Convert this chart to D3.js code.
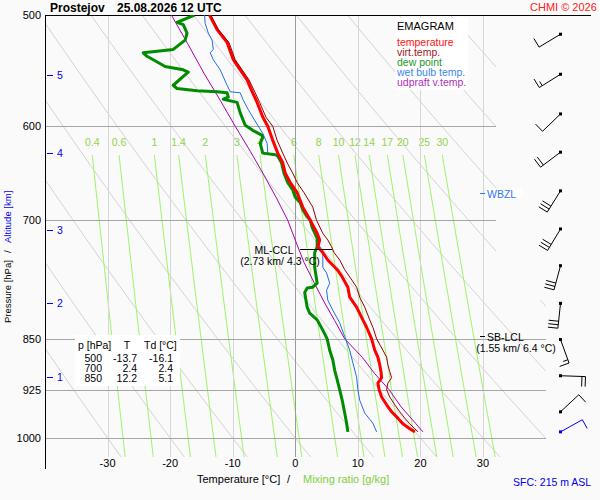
<!DOCTYPE html>
<html>
<head>
<meta charset="utf-8">
<script src="https://cdn.jsdelivr.net/npm/d3@7"></script>
<style>
  body { margin: 0; background: #fafafa; }
  svg { display: block; font-family: "Liberation Sans", Arial, sans-serif; }
</style>
</head>
<body>
<svg id="emagram" width="600" height="500"></svg>
<script>
// sounding values
const tempP = [500, 512, 523, 538, 547, 556, 568, 577, 591, 600, 614, 627, 637, 648, 658, 669, 685, 700, 715, 723, 731, 738, 747, 759, 768, 781, 794, 807, 824, 834, 850, 866, 876, 887, 897, 906, 914, 924, 935, 947, 958, 968, 977, 985, 990];
const tempT = [-13.7, -12.5, -10.9, -9.9, -8.8, -7.7, -6.8, -6.1, -5.2, -4.4, -3.6, -2.8, -2.0, -1.6, -0.8, 0.3, 1.2, 2.4, 3.5, 3.9, 3.6, 4.4, 5.2, 6.7, 7.5, 8.4, 8.7, 9.8, 10.8, 11.4, 12.2, 12.7, 13.2, 13.5, 13.7, 13.8, 13.2, 13.4, 13.8, 14.6, 15.4, 16.4, 17.2, 18.3, 19.1];
const virtT = [-13.5, -12.3, -10.6, -9.6, -8.5, -7.4, -6.4, -5.7, -4.7, -3.6, -2.9, -2.0, -1.3, -0.4, 0.3, 1.4, 2.8, 3.4, 4.4, 5.2, 5.8, 6.2, 7.1, 7.9, 8.7, 9.8, 10.3, 11.1, 11.9, 12.4, 13.0, 14.0, 14.6, 14.8, 15.1, 15.4, 14.8, 14.6, 15.1, 15.9, 16.7, 17.5, 18.3, 19.1, 19.6];

const dewP = [500, 506, 508, 515, 521, 529, 532, 535, 538, 544, 547, 549, 553, 561, 564, 566, 567, 568, 572, 574, 577, 587, 599, 604, 609, 611, 617, 627, 629, 637, 648, 658, 666, 674, 680, 688, 696, 700, 708, 721, 731, 738, 756, 776, 781, 782, 788, 807, 815, 824, 838, 850, 866, 880, 895, 909, 924, 940, 960, 976, 990];
const dewT = [-16.1, -18.9, -17.9, -17.3, -17.6, -19.5, -24.3, -23.7, -22.7, -20.8, -17.9, -17.1, -17.9, -19.5, -18.9, -15.7, -12.5, -10.9, -10.7, -11.5, -9.3, -8.8, -8.0, -6.8, -5.3, -5.2, -5.6, -5.2, -2.9, -2.2, -1.8, -1.2, -0.4, 0.0, 0.8, 1.2, 1.9, 2.4, 2.7, 3.5, 3.5, 3.1, 3.1, 3.5, 2.8, 1.9, 1.5, 1.9, 2.3, 3.5, 4.4, 5.1, 5.5, 6.0, 6.3, 6.7, 7.1, 7.5, 7.9, 8.2, 8.4];

const wetP = [500, 507, 515, 521, 529, 532, 538, 547, 561, 567, 568, 575, 584, 592, 599, 607, 617, 627, 629, 637, 648, 658, 666, 674, 685, 696, 700, 708, 731, 738, 756, 763, 776, 785, 798, 811, 828, 847, 866, 884, 905, 924, 940, 960, 976, 990];
const wetT = [-14.5, -14.4, -13.9, -13.3, -13.1, -13.6, -13.1, -12.0, -10.9, -10.4, -8.8, -8.3, -7.5, -6.7, -6.0, -5.2, -4.5, -4.4, -3.2, -2.1, -1.7, -1.0, -0.4, 0.3, 1.1, 1.9, 2.4, 2.8, 3.9, 4.4, 4.4, 5.0, 5.5, 5.0, 5.2, 6.0, 7.1, 7.9, 8.7, 9.2, 9.8, 10.0, 10.3, 11.1, 12.4, 13.0];

const parcelP = [500, 525, 550, 575, 600, 625, 650, 675, 700, 725, 750, 775, 800, 825, 850, 876, 900, 924, 950, 976, 990];
const parcelT = [-19.8, -17.1, -14.6, -12.0, -9.6, -7.2, -5.0, -3.0, -1.2, 0.1, 1.4, 3.0, 4.6, 6.3, 7.9, 10.7, 12.7, 15.0, 16.9, 19.2, 20.4];

// wind every 0.5 km
const windP = [516, 551, 588, 626, 667, 710, 754, 802, 851, 903, 958, 990];
const windDir = [239, 238, 226, 233, 212, 211, 195, 186, 160, 92, 47, 61];
const windSpd = [10, 15, 10, 20, 30, 30, 30, 30, 15, 20, 10, 10];

const pressureTicks = [500, 600, 700, 850, 925, 1000];
const tempTicks = [-30, -20, -10, 0, 10, 20, 30];
const altKm = [1, 2, 3, 4, 5];
const altP = [905, 802, 711, 627, 552];
const mixRatios = [0.4, 0.6, 1, 1.4, 2, 3, 4, 6, 8, 10, 12, 14, 17, 20, 25, 30];
const thetas = [-30, -20, -10, 0, 10, 20, 30, 40, 50, 60, 70, 80, 90, 100];

const tableP = [500, 700, 850];
const tableT = [-13.7, 2.4, 12.2];
const tableTd = [-16.1, 2.4, 5.1];

const legendNames = ["temperature", "virt.temp.", "dew point", "wet bulb temp.", "udpraft v.temp."];

const cclP = 735, cclT = 4.3, cclText = "(2.73 km/ 4.3 °C)";
const lclP = 846, lclText = "(1.55 km/ 6.4 °C)";
const wbzlP = 669;

const colors = {
    temp: "#ff0000",
    virt: "#990000",
    dew: "#008c00",
    wet: "#1f6fe8",
    parcel: "#a800b0"
};
const legendColors = ["#ff1010", "#a01818", "#1c9a1c", "#3a86ee", "#b030c0"];

const svg = d3.select("#emagram");
const x = d3.scaleLinear().domain([-40, 32]).range([45, 495.5]);
const y = d3.scaleLog().domain([500, 1000]).range([15, 438]);
const xLeft = 45, xRight = 496, yTop = 15, yBottom = 457;
const pBottom = y.invert(yBottom);

const defs = svg.append("defs");
defs.append("clipPath").attr("id", "plot-clip").append("rect")
    .attr("x", xLeft).attr("y", yTop).attr("width", xRight - xLeft).attr("height", yBottom - yTop);
const wideClip = defs.append("clipPath").attr("id", "wide-clip");
wideClip.append("rect")
    .attr("x", xLeft).attr("y", yTop).attr("width", xRight - xLeft).attr("height", yBottom - yTop);
wideClip.append("rect")
    .attr("x", xRight).attr("y", 300).attr("width", 50).attr("height", yBottom - 300);

const tp = d3.line().x(d => x(d[1])).y(d => y(d[0]));

function drawGrid() {
    console.log("drawGrid ...");
    const g = svg.append("g");

    // dry adiabats
    const pSteps = d3.range(480, 1045, 5);
    g.selectAll(".adiabat").data(thetas).enter().append("path")
        .attr("d", th => tp(pSteps.map(p => [p, (th + 273.15) * Math.pow(p / 1000, 0.2857) - 273.15])))
        .attr("fill", "none").attr("stroke", "#d2d2d2").attr("stroke-width", 1)
        .attr("clip-path", "url(#wide-clip)");

    // mixing ratio lines
    const mixTop = 629;
    const mixT = (w, p) => {
        const l = Math.log(w * p / (622 + w) / 6.112);
        return 243.5 * l / (17.67 - l);
    };
    const mixSteps = d3.range(0, 11).map(i => mixTop + (pBottom - mixTop) * i / 10);
    g.selectAll(".mix").data(mixRatios).enter().append("path")
        .attr("d", w => tp(mixSteps.map(p => [p, mixT(w, p)])))
        .attr("fill", "none").attr("stroke", "#9ef56a").attr("stroke-width", 1);
    g.selectAll(".mix-label").data(mixRatios).enter().append("text")
        .attr("x", w => x(mixT(w, mixTop)))
        .attr("y", 146)
        .attr("text-anchor", "middle")
        .attr("font-size", 10.5)
        .attr("fill", "#94d24e")
        .text(w => w);

    // isotherms
    g.selectAll(".isotherm").data(tempTicks).enter().append("line")
        .attr("x1", t => Math.round(x(t)) + 0.5).attr("x2", t => Math.round(x(t)) + 0.5)
        .attr("y1", yTop).attr("y2", yBottom)
        .attr("stroke", t => t === 0 ? "#999999" : "#d6d6d6");

    // isobars
    g.selectAll(".isobar").data(pressureTicks.slice(1)).enter().append("line")
        .attr("x1", xLeft).attr("x2", p => p >= 800 ? 546 : xRight)
        .attr("y1", p => Math.round(y(p)) + 0.5).attr("y2", p => Math.round(y(p)) + 0.5)
        .attr("stroke", "#a6a6a6");

    // frame
    g.append("line").attr("x1", xLeft).attr("x2", 591).attr("y1", 15.5).attr("y2", 15.5)
        .attr("stroke", "#000");
    g.append("line").attr("x1", 45.5).attr("x2", 45.5).attr("y1", 15).attr("y2", 469)
        .attr("stroke", "#000");

    // pressure labels
    g.selectAll(".plabel").data(pressureTicks).enter().append("text")
        .attr("x", 41).attr("y", p => y(p) + 4)
        .attr("text-anchor", "end").attr("font-size", 11).attr("fill", "#000")
        .text(p => p);

    // temperature labels
    g.selectAll(".tlabel").data(tempTicks).enter().append("text")
        .attr("x", t => x(t)).attr("y", 467)
        .attr("text-anchor", "middle").attr("font-size", 11).attr("fill", "#000")
        .text(t => t);

    // altitude ticks
    g.selectAll(".alt-tick").data(altP).enter().append("line")
        .attr("x1", 47).attr("x2", 53)
        .attr("y1", p => Math.round(y(p)) + 0.5).attr("y2", p => Math.round(y(p)) + 0.5)
        .attr("stroke", "#0000ee");
    g.selectAll(".alt-label").data(altKm).enter().append("text")
        .attr("x", 57).attr("y", (k, i) => y(altP[i]) + 4)
        .attr("font-size", 10.5).attr("fill", "#0000ee")
        .text(k => k);
    console.log("drawGrid OK");
}

function drawProfiles() {
    console.log("drawProfiles ...");
    const g = svg.append("g").attr("clip-path", "url(#plot-clip)")
        .attr("fill", "none").attr("stroke-linejoin", "round");
    g.append("path").attr("d", tp(d3.zip(parcelP, parcelT)))
        .attr("stroke", colors.parcel).attr("stroke-width", 1);
    g.append("path").attr("d", tp(d3.zip(wetP, wetT)))
        .attr("stroke", colors.wet).attr("stroke-width", 1);
    g.append("path").attr("d", tp(d3.zip(dewP, dewT)))
        .attr("stroke", colors.dew).attr("stroke-width", 3);
    g.append("path").attr("d", tp(d3.zip(tempP, tempT)))
        .attr("stroke", colors.temp).attr("stroke-width", 3);
    g.append("path").attr("d", tp(d3.zip(tempP, virtT)))
        .attr("stroke", colors.virt).attr("stroke-width", 1);
    console.log("drawProfiles OK");
}

function drawBarbs() {
    console.log("drawBarbs ...");
    const g = svg.append("g");
    windP.forEach((p, i) => {
        const color = i === windP.length - 1 ? "#0000ff" : "#000000";
        const x0 = 560.5, y0 = y(p);
        const a = windDir[i] * Math.PI / 180;
        const ux = Math.sin(a), uy = -Math.cos(a);
        const px = -uy, py = ux;
        const len = 25;
        g.append("line")
            .attr("x1", x0).attr("y1", y0)
            .attr("x2", x0 + ux * len).attr("y2", y0 + uy * len)
            .attr("stroke", color);
        g.append("rect").attr("x", x0 - 1.5).attr("y", y0 - 1.5)
            .attr("width", 3).attr("height", 3).attr("fill", color);
        let rest = windSpd[i];
        let pos = len;
        while (rest >= 10) {
            const bx = x0 + ux * pos, by = y0 + uy * pos;
            g.append("line").attr("x1", bx).attr("y1", by)
                .attr("x2", bx + px * 10).attr("y2", by + py * 10)
                .attr("stroke", color);
            pos -= 3.5;
            rest -= 10;
        }
        if (rest >= 5) {
            const bx = x0 + ux * pos, by = y0 + uy * pos;
            g.append("line").attr("x1", bx).attr("y1", by)
                .attr("x2", bx + px * 5).attr("y2", by + py * 5)
                .attr("stroke", color);
        }
    });
    console.log("drawBarbs OK");
}

function drawLabels() {
    console.log("drawLabels ...");
    // title
    svg.append("text").attr("x", 50).attr("y", 11.5)
        .attr("font-size", 12).attr("font-weight", "bold").text("Prostejov");
    svg.append("text").attr("x", 117).attr("y", 11.5)
        .attr("font-size", 12).attr("font-weight", "bold").text("25.08.2026 12 UTC");
    svg.append("text").attr("x", 530).attr("y", 11)
        .attr("font-size", 11).attr("fill", "#ff2020").text("CHMI © 2026");

    // legend
    svg.append("rect").attr("x", 395).attr("y", 18).attr("width", 73).attr("height", 72).attr("fill", "#fff");
    svg.append("text").attr("x", 397).attr("y", 30).attr("font-size", 11).text("EMAGRAM");
    svg.selectAll(".legend").data(legendNames).enter().append("text")
        .attr("x", 397).attr("y", (d, i) => 46 + i * 10)
        .attr("font-size", 10.5).attr("fill", (d, i) => legendColors[i])
        .text(d => d);

    // table, one text per row
    svg.append("rect").attr("x", 75).attr("y", 335).attr("width", 105).attr("height", 51).attr("fill", "#fff");
    const head = svg.append("text").attr("y", 349).attr("font-size", 10.5);
    head.append("tspan").attr("x", 78).text("p [hPa]");
    head.append("tspan").attr("x", 127).attr("text-anchor", "middle").text("T");
    head.append("tspan").attr("x", 144).text("Td [°C]");
    tableP.forEach((p, i) => {
        const row = svg.append("text").attr("y", 362 + i * 10).attr("font-size", 10.5);
        row.append("tspan").attr("x", 102).attr("text-anchor", "end").text(p);
        row.append("tspan").attr("x", 137).attr("text-anchor", "end").text(tableT[i].toFixed(1));
        row.append("tspan").attr("x", 173).attr("text-anchor", "end").text(tableTd[i].toFixed(1));
    });

    // ML-CCL
    const cy = Math.round(y(cclP)) - 0.5;
    svg.append("line").attr("x1", x(cclT) - 22).attr("x2", x(cclT) + 10)
        .attr("y1", cy).attr("y2", cy).attr("stroke", "#000");
    svg.append("text").attr("x", 274).attr("y", cy + 4.5).attr("text-anchor", "middle")
        .attr("font-size", 10.5).text("ML-CCL");
    svg.append("text").attr("x", 280).attr("y", cy + 15.5).attr("text-anchor", "middle")
        .attr("font-size", 10.5).text(cclText);

    // SB-LCL
    const ly = Math.round(y(lclP)) + 0.5;
    svg.append("line").attr("x1", 480).attr("x2", 485).attr("y1", ly).attr("y2", ly).attr("stroke", "#000");
    svg.append("text").attr("x", 487).attr("y", ly + 4).attr("font-size", 10.5).text("SB-LCL");
    svg.append("text").attr("x", 516).attr("y", ly + 15).attr("text-anchor", "middle")
        .attr("font-size", 10.5).text(lclText);

    // WBZL
    const wy = Math.round(y(wbzlP)) + 0.5;
    svg.append("rect").attr("x", 486).attr("y", wy - 5).attr("width", 37).attr("height", 10).attr("fill", "#fff");
    svg.append("line").attr("x1", 480).attr("x2", 485).attr("y1", wy).attr("y2", wy).attr("stroke", "#3377ee");
    svg.append("text").attr("x", 487).attr("y", wy + 4).attr("font-size", 10.5)
        .attr("fill", "#3377ee").text("WBZL");

    // axis titles
    svg.append("text").attr("x", 197).attr("y", 483).attr("font-size", 11).text("Temperature [°C]");
    svg.append("text").attr("x", 287).attr("y", 483).attr("font-size", 11).text("/");
    svg.append("text").attr("x", 303).attr("y", 483).attr("font-size", 11)
        .attr("fill", "#80d040").text("Mixing ratio [g/kg]");
    svg.append("text").attr("transform", "translate(11,323) rotate(-90)")
        .attr("font-size", 9.5).text("Pressure [hPa]");
    svg.append("text").attr("transform", "translate(11,253) rotate(-90)")
        .attr("font-size", 9.5).text("/");
    svg.append("text").attr("transform", "translate(11,243) rotate(-90)")
        .attr("font-size", 9.5).attr("fill", "#0000ee").text("Altitude [km]");

    svg.append("text").attr("x", 513).attr("y", 486).attr("font-size", 10.5)
        .attr("fill", "#0000ee").text("SFC: 215 m ASL");
    console.log("drawLabels OK");
}

drawGrid();
drawProfiles();
drawBarbs();
drawLabels();
</script>
</body>
</html>
